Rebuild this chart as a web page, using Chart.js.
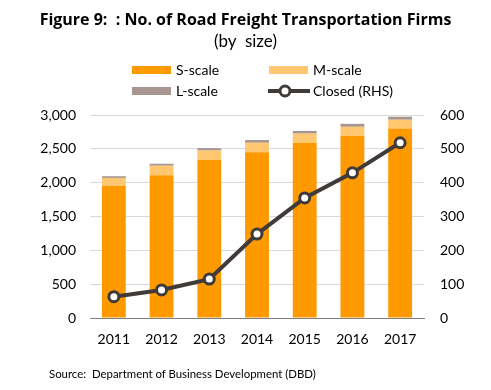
<!DOCTYPE html>
<html>
<head>
<meta charset="utf-8">
<script src="https://cdn.jsdelivr.net/npm/chart.js@4"></script>
<style>
  body { margin: 0; background: #fff; font-family: Lato, 'Open Sans', sans-serif; color: #000; }
  #wrap { position: relative; width: 491px; height: 390px; overflow: hidden; }
  #chart { position: absolute; left: 0; top: 0; }
  .title { position: absolute; left: 0; width: 491px; text-align: center; }
  #t1 { top: 8px; font-family: 'Open Sans', sans-serif; font-size: 16px; font-weight: bold; }
  #t2 { top: 30px; font-size: 17px; }
  .leg { position: absolute; font-size: 14px; line-height: 16px; white-space: nowrap; }
  .sw { position: absolute; width: 39px; height: 8px; }
  #source { position: absolute; left: 49px; top: 367px; font-size: 11.4px; }
</style>
</head>
<body>
<div id="wrap">
  <canvas id="chart" width="491" height="390"></canvas>
  <div class="title" id="t1">Figure 9:&nbsp; : No. of Road Freight Transportation Firms</div>
  <div class="title" id="t2">(by&nbsp; size)</div>
  <div id="legend"></div>
  <div id="source">Source:&nbsp; Department of Business Development (DBD)</div>
</div>
<script>
const years = ['2011', '2012', '2013', '2014', '2015', '2016', '2017']
const sScale = [1950, 2110, 2335, 2450, 2585, 2695, 2795]
const mScale = [120, 140, 140, 140, 140, 130, 135]
const lScale = [25, 30, 35, 40, 40, 45, 45]
const closed = [63, 83, 115, 248, 355, 429, 518]

const lineColor = '#403a38'

const chart = new Chart(document.getElementById('chart'), {
  type: 'bar',
  data: {
    labels: years,
    datasets: [
      { label: 'S-scale', data: sScale, backgroundColor: '#ff9900', order: 1, stack: 'a' },
      { label: 'M-scale', data: mScale, backgroundColor: '#ffc770', order: 1, stack: 'a' },
      { label: 'L-scale', data: lScale, backgroundColor: '#a89690', order: 1, stack: 'a' },
      {
        type: 'line',
        label: 'Closed (RHS)',
        data: closed,
        yAxisID: 'y1',
        borderColor: lineColor,
        borderWidth: 4,
        pointRadius: 5,
        pointBorderWidth: 3,
        pointBackgroundColor: '#fff',
        pointBorderColor: lineColor,
        order: 0,
      },
    ],
  },
  options: {
    responsive: false,
    animation: false,
    layout: { padding: { top: 115, bottom: 42, left: 0, right: 0 } },
    datasets: { bar: { barPercentage: 0.5, categoryPercentage: 1 } },
    plugins: { legend: { display: false }, tooltip: { enabled: false } },
    scales: {
      x: {
        stacked: true,
        grid: { display: false, drawTicks: false },
        border: { color: '#7f7f7f' },
        ticks: { color: '#000', padding: 13, font: { family: 'Lato', size: 14 } },
        afterFit: s => { s.height = 30 },
      },
      y: {
        stacked: true,
        min: 0,
        max: 3000,
        ticks: {
          stepSize: 500,
          color: '#000',
          padding: 14,
          font: { family: 'Lato', size: 14 },
          callback: v => v.toLocaleString('en-US'),
        },
        grid: { color: '#d9d9d9', drawTicks: false },
        border: { display: false },
        afterFit: s => { s.width = 90 },
      },
      y1: {
        position: 'right',
        min: 0,
        max: 600,
        ticks: { stepSize: 100, color: '#000', padding: 16, font: { family: 'Lato', size: 14 } },
        grid: { display: false, drawTicks: false },
        border: { display: false },
        afterFit: s => { s.width = 67 },
      },
    },
  },
})

// two-column legend like the original
const legendPos = [
  { x: 132, y: 62 },
  { x: 269, y: 62 },
  { x: 132, y: 83 },
  { x: 269, y: 83 },
]
const legend = document.getElementById('legend')
chart.data.datasets.forEach((ds, i) => {
  const p = legendPos[i]
  const item = document.createElement('div')
  item.className = 'leg'
  item.style.left = p.x + 'px'
  item.style.top = p.y + 'px'
  let mark
  if (ds.type === 'line') {
    mark = '<svg width="42" height="16" style="position:absolute;left:-1px;top:0">' +
      '<line x1="0" y1="8" x2="42" y2="8" stroke="' + lineColor + '" stroke-width="4"/>' +
      '<circle cx="17" cy="8" r="5" fill="#fff" stroke="' + lineColor + '" stroke-width="3"/></svg>'
  } else {
    mark = '<span class="sw" style="left:0;top:4px;background:' + ds.backgroundColor + '"></span>'
  }
  item.innerHTML = mark + '<span style="margin-left:44px">' + ds.label + '</span>'
  legend.appendChild(item)
})
</script>
</body>
</html>
